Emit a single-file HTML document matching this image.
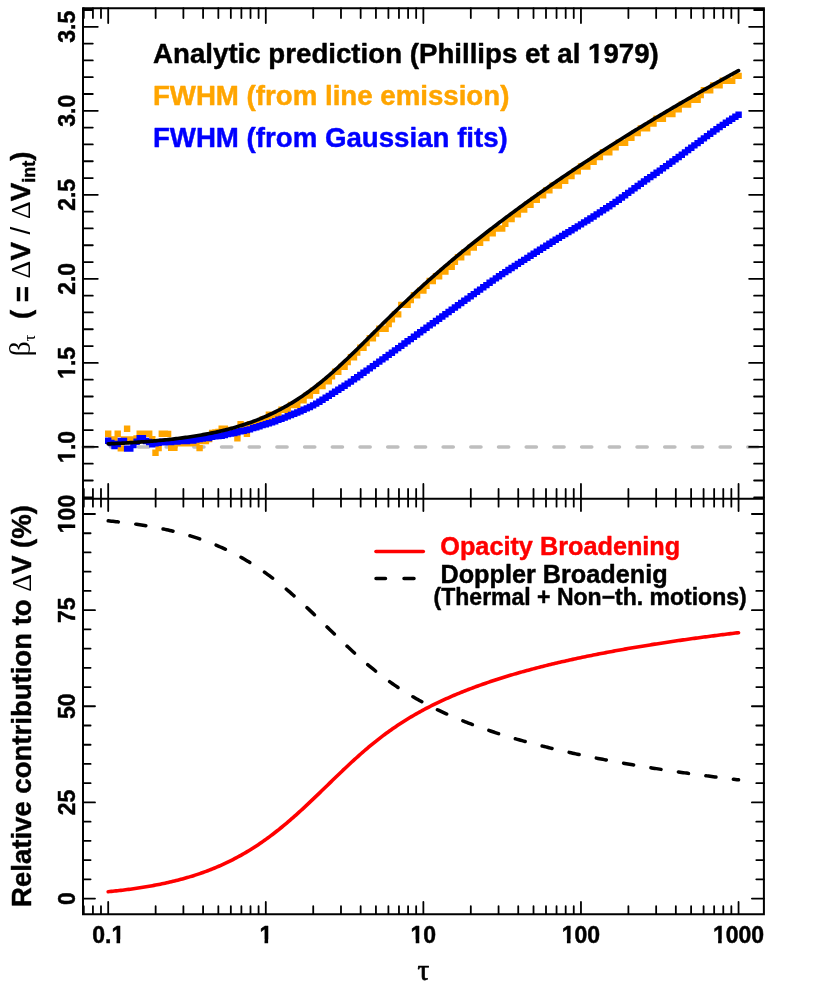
<!DOCTYPE html>
<html><head><meta charset="utf-8"><title>chart</title>
<style>html,body{margin:0;padding:0;background:#fff}body{width:830px;height:997px;overflow:hidden}</style>
</head><body>
<svg width="830" height="997" viewBox="0 0 830 997" style="display:block;will-change:transform;font-family:'Liberation Sans',sans-serif;font-weight:bold">
<style>text{stroke-width:0.45px;stroke-linejoin:round;font-kerning:none}.k{stroke:#000}.r{stroke:#f00}.o{stroke:#ffa500}.b{stroke:#00f}.s{stroke:none}</style>
<rect width="830" height="997" fill="#fff"/>
<path d="M83.0 446.90H763.9" stroke="#bebebe" stroke-width="3.5" stroke-linecap="round" stroke-dasharray="10.2 17.5" fill="none"/>
<path d="M105.0 430.5h6.4v6.4h-6.4zM108.2 436.3h6.4v6.4h-6.4zM111.3 436.3h6.4v6.4h-6.4zM114.5 430.5h6.4v6.4h-6.4zM117.6 445.2h6.4v6.4h-6.4zM120.8 436.3h6.4v6.4h-6.4zM123.9 425.5h6.4v6.4h-6.4zM127.1 436.3h6.4v6.4h-6.4zM130.2 436.3h6.4v6.4h-6.4zM133.4 435.3h6.4v6.4h-6.4zM136.5 430.5h6.4v6.4h-6.4zM139.7 430.5h6.4v6.4h-6.4zM142.8 430.5h6.4v6.4h-6.4zM146.0 430.5h6.4v6.4h-6.4zM149.1 436.1h6.4v6.4h-6.4zM152.3 449.6h6.4v6.4h-6.4zM155.4 444.8h6.4v6.4h-6.4zM158.6 430.5h6.4v6.4h-6.4zM161.7 430.5h6.4v6.4h-6.4zM164.9 430.7h6.4v6.4h-6.4zM168.0 444.7h6.4v6.4h-6.4zM171.2 444.7h6.4v6.4h-6.4zM174.3 440.0h6.4v6.4h-6.4zM177.5 440.0h6.4v6.4h-6.4zM180.6 440.0h6.4v6.4h-6.4zM183.8 440.0h6.4v6.4h-6.4zM186.9 440.0h6.4v6.4h-6.4zM190.1 439.8h6.4v6.4h-6.4zM193.2 439.8h6.4v6.4h-6.4zM196.4 444.9h6.4v6.4h-6.4zM199.6 437.8h6.4v6.4h-6.4zM202.7 437.8h6.4v6.4h-6.4zM205.9 435.9h6.4v6.4h-6.4zM209.0 429.8h6.4v6.4h-6.4zM212.2 429.3h6.4v6.4h-6.4zM215.3 428.8h6.4v6.4h-6.4zM218.5 425.5h6.4v6.4h-6.4zM221.6 425.5h6.4v6.4h-6.4zM224.8 427.3h6.4v6.4h-6.4zM227.9 426.8h6.4v6.4h-6.4zM231.1 426.8h6.4v6.4h-6.4zM234.2 435.2h6.4v6.4h-6.4zM237.4 420.9h6.4v6.4h-6.4zM240.5 424.8h6.4v6.4h-6.4zM243.7 430.6h6.4v6.4h-6.4zM246.8 420.9h6.4v6.4h-6.4zM250.0 420.9h6.4v6.4h-6.4zM253.1 420.9h6.4v6.4h-6.4zM256.3 420.9h6.4v6.4h-6.4zM259.4 416.2h6.4v6.4h-6.4zM262.6 416.2h6.4v6.4h-6.4zM265.7 411.4h6.4v6.4h-6.4zM268.9 416.2h6.4v6.4h-6.4zM272.0 411.4h6.4v6.4h-6.4zM275.2 411.4h6.4v6.4h-6.4zM278.3 406.6h6.4v6.4h-6.4zM281.5 406.6h6.4v6.4h-6.4zM284.6 406.6h6.4v6.4h-6.4zM287.8 401.8h6.4v6.4h-6.4zM291.0 401.8h6.4v6.4h-6.4zM294.1 401.8h6.4v6.4h-6.4zM297.3 397.1h6.4v6.4h-6.4zM300.4 397.1h6.4v6.4h-6.4zM303.6 392.3h6.4v6.4h-6.4zM306.7 392.3h6.4v6.4h-6.4zM309.9 387.5h6.4v6.4h-6.4zM313.0 387.5h6.4v6.4h-6.4zM316.2 382.8h6.4v6.4h-6.4zM319.3 382.8h6.4v6.4h-6.4zM322.5 378.0h6.4v6.4h-6.4zM325.6 378.0h6.4v6.4h-6.4zM328.8 373.2h6.4v6.4h-6.4zM331.9 368.5h6.4v6.4h-6.4zM335.1 368.5h6.4v6.4h-6.4zM338.2 363.7h6.4v6.4h-6.4zM341.4 363.7h6.4v6.4h-6.4zM344.5 358.9h6.4v6.4h-6.4zM347.7 354.1h6.4v6.4h-6.4zM350.8 354.1h6.4v6.4h-6.4zM354.0 349.4h6.4v6.4h-6.4zM357.1 344.6h6.4v6.4h-6.4zM360.3 344.6h6.4v6.4h-6.4zM363.4 339.8h6.4v6.4h-6.4zM366.6 335.1h6.4v6.4h-6.4zM369.7 335.1h6.4v6.4h-6.4zM372.9 330.3h6.4v6.4h-6.4zM376.1 325.5h6.4v6.4h-6.4zM379.2 325.5h6.4v6.4h-6.4zM382.4 325.5h6.4v6.4h-6.4zM385.5 320.8h6.4v6.4h-6.4zM388.7 316.0h6.4v6.4h-6.4zM391.8 311.2h6.4v6.4h-6.4zM395.0 311.2h6.4v6.4h-6.4zM398.1 301.7h6.4v6.4h-6.4zM401.3 301.7h6.4v6.4h-6.4zM404.4 301.7h6.4v6.4h-6.4zM407.6 296.9h6.4v6.4h-6.4zM410.7 292.1h6.4v6.4h-6.4zM413.9 292.1h6.4v6.4h-6.4zM417.0 287.4h6.4v6.4h-6.4zM420.2 287.4h6.4v6.4h-6.4zM423.3 282.6h6.4v6.4h-6.4zM426.5 277.8h6.4v6.4h-6.4zM429.6 277.8h6.4v6.4h-6.4zM432.8 273.0h6.4v6.4h-6.4zM435.9 273.0h6.4v6.4h-6.4zM439.1 268.3h6.4v6.4h-6.4zM442.2 268.3h6.4v6.4h-6.4zM445.4 263.5h6.4v6.4h-6.4zM448.5 263.5h6.4v6.4h-6.4zM451.7 258.7h6.4v6.4h-6.4zM454.8 254.0h6.4v6.4h-6.4zM458.0 254.0h6.4v6.4h-6.4zM461.1 249.2h6.4v6.4h-6.4zM464.3 249.2h6.4v6.4h-6.4zM467.5 244.4h6.4v6.4h-6.4zM470.6 244.4h6.4v6.4h-6.4zM473.8 239.7h6.4v6.4h-6.4zM476.9 239.7h6.4v6.4h-6.4zM480.1 234.9h6.4v6.4h-6.4zM483.2 234.9h6.4v6.4h-6.4zM486.4 230.1h6.4v6.4h-6.4zM489.5 230.1h6.4v6.4h-6.4zM492.7 225.3h6.4v6.4h-6.4zM495.8 225.3h6.4v6.4h-6.4zM499.0 225.3h6.4v6.4h-6.4zM502.1 220.6h6.4v6.4h-6.4zM505.3 215.8h6.4v6.4h-6.4zM508.4 215.8h6.4v6.4h-6.4zM511.6 211.0h6.4v6.4h-6.4zM514.7 211.0h6.4v6.4h-6.4zM517.9 206.3h6.4v6.4h-6.4zM521.0 206.3h6.4v6.4h-6.4zM524.2 201.5h6.4v6.4h-6.4zM527.3 201.5h6.4v6.4h-6.4zM530.5 196.7h6.4v6.4h-6.4zM533.6 196.7h6.4v6.4h-6.4zM536.8 192.0h6.4v6.4h-6.4zM539.9 192.0h6.4v6.4h-6.4zM543.1 187.2h6.4v6.4h-6.4zM546.2 187.2h6.4v6.4h-6.4zM549.4 182.4h6.4v6.4h-6.4zM552.5 182.4h6.4v6.4h-6.4zM555.7 182.4h6.4v6.4h-6.4zM558.9 177.6h6.4v6.4h-6.4zM562.0 177.6h6.4v6.4h-6.4zM565.2 172.9h6.4v6.4h-6.4zM568.3 172.9h6.4v6.4h-6.4zM571.5 168.1h6.4v6.4h-6.4zM574.6 168.1h6.4v6.4h-6.4zM577.8 163.3h6.4v6.4h-6.4zM580.9 163.3h6.4v6.4h-6.4zM584.1 163.3h6.4v6.4h-6.4zM587.2 158.6h6.4v6.4h-6.4zM590.4 158.6h6.4v6.4h-6.4zM593.5 153.8h6.4v6.4h-6.4zM596.7 153.8h6.4v6.4h-6.4zM599.8 149.0h6.4v6.4h-6.4zM603.0 149.0h6.4v6.4h-6.4zM606.1 149.0h6.4v6.4h-6.4zM609.3 144.2h6.4v6.4h-6.4zM612.4 144.2h6.4v6.4h-6.4zM615.6 139.5h6.4v6.4h-6.4zM618.7 139.5h6.4v6.4h-6.4zM621.9 139.5h6.4v6.4h-6.4zM625.0 134.7h6.4v6.4h-6.4zM628.2 134.7h6.4v6.4h-6.4zM631.3 129.9h6.4v6.4h-6.4zM634.5 129.9h6.4v6.4h-6.4zM637.6 125.2h6.4v6.4h-6.4zM640.8 125.2h6.4v6.4h-6.4zM643.9 125.2h6.4v6.4h-6.4zM647.1 120.4h6.4v6.4h-6.4zM650.3 120.4h6.4v6.4h-6.4zM653.4 115.6h6.4v6.4h-6.4zM656.6 115.6h6.4v6.4h-6.4zM659.7 115.6h6.4v6.4h-6.4zM662.9 110.9h6.4v6.4h-6.4zM666.0 110.9h6.4v6.4h-6.4zM669.2 110.9h6.4v6.4h-6.4zM672.3 106.1h6.4v6.4h-6.4zM675.5 106.1h6.4v6.4h-6.4zM678.6 101.3h6.4v6.4h-6.4zM681.8 101.3h6.4v6.4h-6.4zM684.9 101.3h6.4v6.4h-6.4zM688.1 96.5h6.4v6.4h-6.4zM691.2 96.5h6.4v6.4h-6.4zM694.4 96.5h6.4v6.4h-6.4zM697.5 91.8h6.4v6.4h-6.4zM700.7 87.0h6.4v6.4h-6.4zM703.8 87.0h6.4v6.4h-6.4zM707.0 87.0h6.4v6.4h-6.4zM710.1 82.2h6.4v6.4h-6.4zM713.3 82.2h6.4v6.4h-6.4zM716.4 82.2h6.4v6.4h-6.4zM719.6 77.5h6.4v6.4h-6.4zM722.7 77.5h6.4v6.4h-6.4zM725.9 77.5h6.4v6.4h-6.4zM729.0 77.5h6.4v6.4h-6.4zM732.2 72.7h6.4v6.4h-6.4zM735.4 72.7h6.4v6.4h-6.4z" fill="#ffa500"/>
<path d="M105.0 437.5h6.4v6.4h-6.4zM108.2 439.8h6.4v6.4h-6.4zM111.3 442.8h6.4v6.4h-6.4zM114.5 440.8h6.4v6.4h-6.4zM117.6 437.8h6.4v6.4h-6.4zM120.8 437.8h6.4v6.4h-6.4zM123.9 445.4h6.4v6.4h-6.4zM127.1 445.4h6.4v6.4h-6.4zM130.2 441.8h6.4v6.4h-6.4zM133.4 438.5h6.4v6.4h-6.4zM136.5 434.9h6.4v6.4h-6.4zM139.7 434.9h6.4v6.4h-6.4zM142.8 437.8h6.4v6.4h-6.4zM146.0 438.8h6.4v6.4h-6.4zM149.1 441.2h6.4v6.4h-6.4zM152.3 440.1h6.4v6.4h-6.4zM155.4 439.7h6.4v6.4h-6.4zM158.6 438.4h6.4v6.4h-6.4zM161.7 439.2h6.4v6.4h-6.4zM164.9 438.9h6.4v6.4h-6.4zM168.0 438.8h6.4v6.4h-6.4zM171.2 438.3h6.4v6.4h-6.4zM174.3 438.3h6.4v6.4h-6.4zM177.5 437.8h6.4v6.4h-6.4zM180.6 437.2h6.4v6.4h-6.4zM183.8 437.8h6.4v6.4h-6.4zM186.9 437.4h6.4v6.4h-6.4zM190.1 437.4h6.4v6.4h-6.4zM193.2 436.4h6.4v6.4h-6.4zM196.4 435.8h6.4v6.4h-6.4zM199.6 435.3h6.4v6.4h-6.4zM202.7 434.5h6.4v6.4h-6.4zM205.9 434.8h6.4v6.4h-6.4zM209.0 433.6h6.4v6.4h-6.4zM212.2 433.1h6.4v6.4h-6.4zM215.3 432.8h6.4v6.4h-6.4zM218.5 432.7h6.4v6.4h-6.4zM221.6 431.8h6.4v6.4h-6.4zM224.8 430.8h6.4v6.4h-6.4zM227.9 430.3h6.4v6.4h-6.4zM231.1 429.8h6.4v6.4h-6.4zM234.2 429.0h6.4v6.4h-6.4zM237.4 428.1h6.4v6.4h-6.4zM240.5 427.5h6.4v6.4h-6.4zM243.7 426.8h6.4v6.4h-6.4zM246.8 426.2h6.4v6.4h-6.4zM250.0 424.8h6.4v6.4h-6.4zM253.1 424.0h6.4v6.4h-6.4zM256.3 423.1h6.4v6.4h-6.4zM259.4 421.9h6.4v6.4h-6.4zM262.6 421.1h6.4v6.4h-6.4zM265.7 420.0h6.4v6.4h-6.4zM268.9 419.2h6.4v6.4h-6.4zM272.0 418.0h6.4v6.4h-6.4zM275.2 416.6h6.4v6.4h-6.4zM278.3 415.7h6.4v6.4h-6.4zM281.5 414.4h6.4v6.4h-6.4zM284.6 413.0h6.4v6.4h-6.4zM287.8 411.8h6.4v6.4h-6.4zM291.0 410.6h6.4v6.4h-6.4zM294.1 409.3h6.4v6.4h-6.4zM297.3 408.1h6.4v6.4h-6.4zM300.4 406.5h6.4v6.4h-6.4zM303.6 405.2h6.4v6.4h-6.4zM306.7 403.8h6.4v6.4h-6.4zM309.9 402.2h6.4v6.4h-6.4zM313.0 400.4h6.4v6.4h-6.4zM316.2 398.6h6.4v6.4h-6.4zM319.3 396.6h6.4v6.4h-6.4zM322.5 394.5h6.4v6.4h-6.4zM325.6 392.7h6.4v6.4h-6.4zM328.8 390.6h6.4v6.4h-6.4zM331.9 388.6h6.4v6.4h-6.4zM335.1 386.6h6.4v6.4h-6.4zM338.2 384.6h6.4v6.4h-6.4zM341.4 382.6h6.4v6.4h-6.4zM344.5 380.4h6.4v6.4h-6.4zM347.7 378.4h6.4v6.4h-6.4zM350.8 376.1h6.4v6.4h-6.4zM354.0 374.0h6.4v6.4h-6.4zM357.1 371.8h6.4v6.4h-6.4zM360.3 369.6h6.4v6.4h-6.4zM363.4 367.4h6.4v6.4h-6.4zM366.6 365.2h6.4v6.4h-6.4zM369.7 362.9h6.4v6.4h-6.4zM372.9 360.7h6.4v6.4h-6.4zM376.1 358.4h6.4v6.4h-6.4zM379.2 356.2h6.4v6.4h-6.4zM382.4 354.0h6.4v6.4h-6.4zM385.5 351.7h6.4v6.4h-6.4zM388.7 349.5h6.4v6.4h-6.4zM391.8 347.2h6.4v6.4h-6.4zM395.0 344.9h6.4v6.4h-6.4zM398.1 342.7h6.4v6.4h-6.4zM401.3 340.3h6.4v6.4h-6.4zM404.4 338.1h6.4v6.4h-6.4zM407.6 335.9h6.4v6.4h-6.4zM410.7 333.6h6.4v6.4h-6.4zM413.9 331.3h6.4v6.4h-6.4zM417.0 329.1h6.4v6.4h-6.4zM420.2 326.8h6.4v6.4h-6.4zM423.3 324.5h6.4v6.4h-6.4zM426.5 322.2h6.4v6.4h-6.4zM429.6 320.0h6.4v6.4h-6.4zM432.8 317.8h6.4v6.4h-6.4zM435.9 315.5h6.4v6.4h-6.4zM439.1 313.3h6.4v6.4h-6.4zM442.2 311.0h6.4v6.4h-6.4zM445.4 308.8h6.4v6.4h-6.4zM448.5 306.5h6.4v6.4h-6.4zM451.7 304.3h6.4v6.4h-6.4zM454.8 302.1h6.4v6.4h-6.4zM458.0 299.8h6.4v6.4h-6.4zM461.1 297.6h6.4v6.4h-6.4zM464.3 295.4h6.4v6.4h-6.4zM467.5 293.1h6.4v6.4h-6.4zM470.6 290.9h6.4v6.4h-6.4zM473.8 288.6h6.4v6.4h-6.4zM476.9 286.4h6.4v6.4h-6.4zM480.1 284.1h6.4v6.4h-6.4zM483.2 281.9h6.4v6.4h-6.4zM486.4 279.6h6.4v6.4h-6.4zM489.5 277.4h6.4v6.4h-6.4zM492.7 275.2h6.4v6.4h-6.4zM495.8 273.1h6.4v6.4h-6.4zM499.0 270.9h6.4v6.4h-6.4zM502.1 268.9h6.4v6.4h-6.4zM505.3 266.8h6.4v6.4h-6.4zM508.4 264.8h6.4v6.4h-6.4zM511.6 262.8h6.4v6.4h-6.4zM514.7 260.7h6.4v6.4h-6.4zM517.9 258.7h6.4v6.4h-6.4zM521.0 256.7h6.4v6.4h-6.4zM524.2 254.7h6.4v6.4h-6.4zM527.3 252.6h6.4v6.4h-6.4zM530.5 250.6h6.4v6.4h-6.4zM533.6 248.6h6.4v6.4h-6.4zM536.8 246.6h6.4v6.4h-6.4zM539.9 244.6h6.4v6.4h-6.4zM543.1 242.6h6.4v6.4h-6.4zM546.2 240.6h6.4v6.4h-6.4zM549.4 238.6h6.4v6.4h-6.4zM552.5 236.6h6.4v6.4h-6.4zM555.7 234.7h6.4v6.4h-6.4zM558.9 232.7h6.4v6.4h-6.4zM562.0 230.8h6.4v6.4h-6.4zM565.2 228.9h6.4v6.4h-6.4zM568.3 227.0h6.4v6.4h-6.4zM571.5 225.1h6.4v6.4h-6.4zM574.6 223.2h6.4v6.4h-6.4zM577.8 221.2h6.4v6.4h-6.4zM580.9 219.2h6.4v6.4h-6.4zM584.1 217.3h6.4v6.4h-6.4zM587.2 215.3h6.4v6.4h-6.4zM590.4 213.3h6.4v6.4h-6.4zM593.5 211.2h6.4v6.4h-6.4zM596.7 209.2h6.4v6.4h-6.4zM599.8 207.1h6.4v6.4h-6.4zM603.0 205.1h6.4v6.4h-6.4zM606.1 203.0h6.4v6.4h-6.4zM609.3 200.9h6.4v6.4h-6.4zM612.4 198.7h6.4v6.4h-6.4zM615.6 196.5h6.4v6.4h-6.4zM618.7 194.3h6.4v6.4h-6.4zM621.9 192.1h6.4v6.4h-6.4zM625.0 189.7h6.4v6.4h-6.4zM628.2 187.4h6.4v6.4h-6.4zM631.3 185.1h6.4v6.4h-6.4zM634.5 182.8h6.4v6.4h-6.4zM637.6 180.5h6.4v6.4h-6.4zM640.8 178.3h6.4v6.4h-6.4zM643.9 176.1h6.4v6.4h-6.4zM647.1 173.9h6.4v6.4h-6.4zM650.3 171.8h6.4v6.4h-6.4zM653.4 169.6h6.4v6.4h-6.4zM656.6 167.4h6.4v6.4h-6.4zM659.7 165.1h6.4v6.4h-6.4zM662.9 162.9h6.4v6.4h-6.4zM666.0 160.6h6.4v6.4h-6.4zM669.2 158.3h6.4v6.4h-6.4zM672.3 156.1h6.4v6.4h-6.4zM675.5 153.8h6.4v6.4h-6.4zM678.6 151.5h6.4v6.4h-6.4zM681.8 149.2h6.4v6.4h-6.4zM684.9 146.8h6.4v6.4h-6.4zM688.1 144.5h6.4v6.4h-6.4zM691.2 142.2h6.4v6.4h-6.4zM694.4 139.9h6.4v6.4h-6.4zM697.5 137.6h6.4v6.4h-6.4zM700.7 135.2h6.4v6.4h-6.4zM703.8 132.9h6.4v6.4h-6.4zM707.0 130.6h6.4v6.4h-6.4zM710.1 128.3h6.4v6.4h-6.4zM713.3 126.0h6.4v6.4h-6.4zM716.4 123.8h6.4v6.4h-6.4zM719.6 121.7h6.4v6.4h-6.4zM722.7 119.6h6.4v6.4h-6.4zM725.9 117.6h6.4v6.4h-6.4zM729.0 115.5h6.4v6.4h-6.4zM732.2 113.6h6.4v6.4h-6.4zM735.4 111.6h6.4v6.4h-6.4z" fill="#0000ff"/>
<path d="M108.20 443.86 L109.78 443.79 L111.36 443.72 L112.94 443.64 L114.52 443.56 L116.10 443.49 L117.68 443.41 L119.26 443.32 L120.84 443.24 L122.42 443.16 L124.00 443.07 L125.58 442.98 L127.16 442.89 L128.74 442.79 L130.32 442.70 L131.90 442.60 L133.48 442.50 L135.06 442.39 L136.64 442.29 L138.22 442.18 L139.80 442.07 L141.38 441.96 L142.96 441.84 L144.54 441.72 L146.12 441.60 L147.70 441.47 L149.28 441.35 L150.86 441.22 L152.44 441.08 L154.01 440.95 L155.59 440.81 L157.17 440.66 L158.75 440.52 L160.33 440.37 L161.91 440.22 L163.49 440.06 L165.07 439.90 L166.65 439.73 L168.23 439.57 L169.81 439.39 L171.39 439.22 L172.97 439.04 L174.55 438.85 L176.13 438.66 L177.71 438.47 L179.29 438.27 L180.87 438.07 L182.45 437.86 L184.03 437.65 L185.61 437.43 L187.19 437.21 L188.77 436.98 L190.35 436.75 L191.93 436.51 L193.51 436.27 L195.09 436.02 L196.67 435.76 L198.25 435.50 L199.83 435.23 L201.41 434.96 L202.99 434.68 L204.57 434.39 L206.15 434.10 L207.73 433.80 L209.31 433.49 L210.89 433.18 L212.47 432.85 L214.05 432.52 L215.63 432.19 L217.21 431.84 L218.79 431.49 L220.37 431.13 L221.95 430.76 L223.53 430.38 L225.11 429.99 L226.69 429.60 L228.27 429.19 L229.85 428.78 L231.43 428.36 L233.01 427.92 L234.59 427.48 L236.17 427.03 L237.75 426.56 L239.33 426.09 L240.91 425.60 L242.49 425.11 L244.06 424.60 L245.64 424.08 L247.22 423.55 L248.80 423.01 L250.38 422.46 L251.96 421.89 L253.54 421.31 L255.12 420.72 L256.70 420.11 L258.28 419.50 L259.86 418.86 L261.44 418.22 L263.02 417.56 L264.60 416.89 L266.18 416.20 L267.76 415.49 L269.34 414.78 L270.92 414.05 L272.50 413.30 L274.08 412.53 L275.66 411.75 L277.24 410.96 L278.82 410.15 L280.40 409.32 L281.98 408.48 L283.56 407.62 L285.14 406.74 L286.72 405.84 L288.30 404.93 L289.88 404.00 L291.46 403.06 L293.04 402.09 L294.62 401.11 L296.20 400.11 L297.78 399.10 L299.36 398.06 L300.94 397.01 L302.52 395.94 L304.10 394.85 L305.68 393.74 L307.26 392.62 L308.84 391.47 L310.42 390.31 L312.00 389.13 L313.58 387.94 L315.16 386.73 L316.74 385.50 L318.32 384.25 L319.90 382.98 L321.48 381.70 L323.06 380.40 L324.64 379.09 L326.22 377.76 L327.80 376.42 L329.38 375.06 L330.96 373.68 L332.54 372.29 L334.11 370.89 L335.69 369.47 L337.27 368.04 L338.85 366.60 L340.43 365.15 L342.01 363.68 L343.59 362.21 L345.17 360.72 L346.75 359.22 L348.33 357.72 L349.91 356.20 L351.49 354.68 L353.07 353.15 L354.65 351.61 L356.23 350.07 L357.81 348.52 L359.39 346.96 L360.97 345.40 L362.55 343.84 L364.13 342.27 L365.71 340.70 L367.29 339.13 L368.87 337.56 L370.45 335.99 L372.03 334.41 L373.61 332.84 L375.19 331.27 L376.77 329.69 L378.35 328.12 L379.93 326.55 L381.51 324.99 L383.09 323.42 L384.67 321.86 L386.25 320.30 L387.83 318.75 L389.41 317.20 L390.99 315.65 L392.57 314.11 L394.15 312.58 L395.73 311.05 L397.31 309.52 L398.89 308.00 L400.47 306.49 L402.05 304.98 L403.63 303.47 L405.21 301.98 L406.79 300.48 L408.37 299.00 L409.95 297.52 L411.53 296.05 L413.11 294.58 L414.69 293.12 L416.27 291.66 L417.85 290.21 L419.43 288.77 L421.01 287.33 L422.59 285.90 L424.16 284.48 L425.74 283.06 L427.32 281.64 L428.90 280.24 L430.48 278.84 L432.06 277.44 L433.64 276.05 L435.22 274.67 L436.80 273.29 L438.38 271.91 L439.96 270.55 L441.54 269.18 L443.12 267.83 L444.70 266.47 L446.28 265.13 L447.86 263.79 L449.44 262.45 L451.02 261.12 L452.60 259.79 L454.18 258.47 L455.76 257.15 L457.34 255.84 L458.92 254.53 L460.50 253.23 L462.08 251.93 L463.66 250.64 L465.24 249.35 L466.82 248.07 L468.40 246.79 L469.98 245.51 L471.56 244.24 L473.14 242.98 L474.72 241.72 L476.30 240.46 L477.88 239.20 L479.46 237.96 L481.04 236.71 L482.62 235.47 L484.20 234.23 L485.78 233.00 L487.36 231.77 L488.94 230.55 L490.52 229.32 L492.10 228.11 L493.68 226.89 L495.26 225.68 L496.84 224.48 L498.42 223.27 L500.00 222.08 L501.58 220.88 L503.16 219.69 L504.74 218.50 L506.32 217.32 L507.90 216.14 L509.48 214.96 L511.06 213.79 L512.64 212.62 L514.21 211.45 L515.79 210.28 L517.37 209.12 L518.95 207.97 L520.53 206.81 L522.11 205.66 L523.69 204.52 L525.27 203.37 L526.85 202.23 L528.43 201.09 L530.01 199.96 L531.59 198.83 L533.17 197.70 L534.75 196.57 L536.33 195.45 L537.91 194.33 L539.49 193.22 L541.07 192.10 L542.65 190.99 L544.23 189.88 L545.81 188.78 L547.39 187.68 L548.97 186.58 L550.55 185.48 L552.13 184.39 L553.71 183.30 L555.29 182.21 L556.87 181.12 L558.45 180.04 L560.03 178.96 L561.61 177.89 L563.19 176.81 L564.77 175.74 L566.35 174.67 L567.93 173.60 L569.51 172.54 L571.09 171.48 L572.67 170.42 L574.25 169.36 L575.83 168.31 L577.41 167.26 L578.99 166.21 L580.57 165.16 L582.15 164.12 L583.73 163.07 L585.31 162.04 L586.89 161.00 L588.47 159.96 L590.05 158.93 L591.63 157.90 L593.21 156.87 L594.79 155.85 L596.37 154.83 L597.95 153.80 L599.53 152.79 L601.11 151.77 L602.69 150.76 L604.26 149.74 L605.84 148.73 L607.42 147.73 L609.00 146.72 L610.58 145.72 L612.16 144.72 L613.74 143.72 L615.32 142.72 L616.90 141.73 L618.48 140.73 L620.06 139.74 L621.64 138.76 L623.22 137.77 L624.80 136.79 L626.38 135.80 L627.96 134.82 L629.54 133.84 L631.12 132.87 L632.70 131.89 L634.28 130.92 L635.86 129.95 L637.44 128.98 L639.02 128.02 L640.60 127.05 L642.18 126.09 L643.76 125.13 L645.34 124.17 L646.92 123.21 L648.50 122.26 L650.08 121.30 L651.66 120.35 L653.24 119.40 L654.82 118.45 L656.40 117.51 L657.98 116.56 L659.56 115.62 L661.14 114.68 L662.72 113.74 L664.30 112.80 L665.88 111.87 L667.46 110.93 L669.04 110.00 L670.62 109.07 L672.20 108.14 L673.78 107.22 L675.36 106.29 L676.94 105.37 L678.52 104.45 L680.10 103.53 L681.68 102.61 L683.26 101.69 L684.84 100.77 L686.42 99.86 L688.00 98.95 L689.58 98.04 L691.16 97.13 L692.74 96.22 L694.31 95.32 L695.89 94.41 L697.47 93.51 L699.05 92.61 L700.63 91.71 L702.21 90.81 L703.79 89.92 L705.37 89.02 L706.95 88.13 L708.53 87.24 L710.11 86.35 L711.69 85.46 L713.27 84.57 L714.85 83.68 L716.43 82.80 L718.01 81.92 L719.59 81.03 L721.17 80.15 L722.75 79.28 L724.33 78.40 L725.91 77.52 L727.49 76.65 L729.07 75.78 L730.65 74.91 L732.23 74.04 L733.81 73.17 L735.39 72.30 L736.97 71.43 L738.55 70.57" stroke="#000" stroke-width="3.7" stroke-linecap="round" stroke-linejoin="round" fill="none"/>
<path d="M108.20 520.83 L109.78 520.99 L111.36 521.15 L112.94 521.32 L114.52 521.48 L116.10 521.66 L117.68 521.83 L119.26 522.01 L120.84 522.19 L122.42 522.38 L124.00 522.57 L125.58 522.77 L127.16 522.97 L128.74 523.18 L130.32 523.39 L131.90 523.60 L133.48 523.82 L135.06 524.04 L136.64 524.27 L138.22 524.51 L139.80 524.75 L141.38 524.99 L142.96 525.24 L144.54 525.50 L146.12 525.76 L147.70 526.03 L149.28 526.30 L150.86 526.58 L152.44 526.86 L154.01 527.16 L155.59 527.45 L157.17 527.76 L158.75 528.07 L160.33 528.39 L161.91 528.71 L163.49 529.04 L165.07 529.38 L166.65 529.73 L168.23 530.08 L169.81 530.44 L171.39 530.81 L172.97 531.19 L174.55 531.58 L176.13 531.97 L177.71 532.37 L179.29 532.78 L180.87 533.20 L182.45 533.63 L184.03 534.06 L185.61 534.51 L187.19 534.97 L188.77 535.43 L190.35 535.91 L191.93 536.39 L193.51 536.88 L195.09 537.39 L196.67 537.90 L198.25 538.43 L199.83 538.97 L201.41 539.51 L202.99 540.07 L204.57 540.64 L206.15 541.22 L207.73 541.81 L209.31 542.42 L210.89 543.04 L212.47 543.66 L214.05 544.30 L215.63 544.96 L217.21 545.62 L218.79 546.30 L220.37 546.99 L221.95 547.70 L223.53 548.42 L225.11 549.15 L226.69 549.90 L228.27 550.66 L229.85 551.43 L231.43 552.22 L233.01 553.02 L234.59 553.84 L236.17 554.67 L237.75 555.52 L239.33 556.38 L240.91 557.25 L242.49 558.14 L244.06 559.05 L245.64 559.97 L247.22 560.91 L248.80 561.87 L250.38 562.84 L251.96 563.82 L253.54 564.82 L255.12 565.84 L256.70 566.87 L258.28 567.92 L259.86 568.99 L261.44 570.07 L263.02 571.16 L264.60 572.28 L266.18 573.41 L267.76 574.55 L269.34 575.71 L270.92 576.89 L272.50 578.08 L274.08 579.29 L275.66 580.52 L277.24 581.76 L278.82 583.01 L280.40 584.28 L281.98 585.56 L283.56 586.86 L285.14 588.18 L286.72 589.50 L288.30 590.85 L289.88 592.20 L291.46 593.57 L293.04 594.95 L294.62 596.35 L296.20 597.75 L297.78 599.17 L299.36 600.60 L300.94 602.04 L302.52 603.49 L304.10 604.95 L305.68 606.42 L307.26 607.89 L308.84 609.38 L310.42 610.87 L312.00 612.38 L313.58 613.88 L315.16 615.40 L316.74 616.91 L318.32 618.44 L319.90 619.96 L321.48 621.49 L323.06 623.03 L324.64 624.56 L326.22 626.10 L327.80 627.63 L329.38 629.17 L330.96 630.70 L332.54 632.24 L334.11 633.77 L335.69 635.30 L337.27 636.82 L338.85 638.34 L340.43 639.86 L342.01 641.37 L343.59 642.87 L345.17 644.36 L346.75 645.85 L348.33 647.33 L349.91 648.80 L351.49 650.26 L353.07 651.71 L354.65 653.16 L356.23 654.59 L357.81 656.00 L359.39 657.41 L360.97 658.81 L362.55 660.19 L364.13 661.56 L365.71 662.91 L367.29 664.26 L368.87 665.58 L370.45 666.90 L372.03 668.20 L373.61 669.48 L375.19 670.75 L376.77 672.01 L378.35 673.25 L379.93 674.48 L381.51 675.69 L383.09 676.88 L384.67 678.06 L386.25 679.23 L387.83 680.38 L389.41 681.52 L390.99 682.64 L392.57 683.74 L394.15 684.83 L395.73 685.91 L397.31 686.97 L398.89 688.02 L400.47 689.05 L402.05 690.07 L403.63 691.08 L405.21 692.07 L406.79 693.05 L408.37 694.02 L409.95 694.97 L411.53 695.91 L413.11 696.84 L414.69 697.76 L416.27 698.66 L417.85 699.55 L419.43 700.43 L421.01 701.30 L422.59 702.16 L424.16 703.01 L425.74 703.84 L427.32 704.67 L428.90 705.48 L430.48 706.29 L432.06 707.08 L433.64 707.87 L435.22 708.65 L436.80 709.41 L438.38 710.17 L439.96 710.92 L441.54 711.66 L443.12 712.39 L444.70 713.11 L446.28 713.82 L447.86 714.53 L449.44 715.23 L451.02 715.92 L452.60 716.60 L454.18 717.27 L455.76 717.94 L457.34 718.60 L458.92 719.25 L460.50 719.90 L462.08 720.54 L463.66 721.17 L465.24 721.79 L466.82 722.41 L468.40 723.02 L469.98 723.63 L471.56 724.23 L473.14 724.82 L474.72 725.41 L476.30 725.99 L477.88 726.57 L479.46 727.14 L481.04 727.70 L482.62 728.26 L484.20 728.81 L485.78 729.36 L487.36 729.90 L488.94 730.44 L490.52 730.97 L492.10 731.50 L493.68 732.02 L495.26 732.54 L496.84 733.05 L498.42 733.56 L500.00 734.07 L501.58 734.56 L503.16 735.06 L504.74 735.55 L506.32 736.03 L507.90 736.52 L509.48 736.99 L511.06 737.47 L512.64 737.93 L514.21 738.40 L515.79 738.86 L517.37 739.32 L518.95 739.77 L520.53 740.22 L522.11 740.66 L523.69 741.10 L525.27 741.54 L526.85 741.98 L528.43 742.41 L530.01 742.83 L531.59 743.26 L533.17 743.68 L534.75 744.09 L536.33 744.51 L537.91 744.92 L539.49 745.32 L541.07 745.73 L542.65 746.13 L544.23 746.52 L545.81 746.92 L547.39 747.31 L548.97 747.70 L550.55 748.08 L552.13 748.46 L553.71 748.84 L555.29 749.22 L556.87 749.59 L558.45 749.96 L560.03 750.33 L561.61 750.70 L563.19 751.06 L564.77 751.42 L566.35 751.78 L567.93 752.13 L569.51 752.48 L571.09 752.83 L572.67 753.18 L574.25 753.53 L575.83 753.87 L577.41 754.21 L578.99 754.54 L580.57 754.88 L582.15 755.21 L583.73 755.54 L585.31 755.87 L586.89 756.20 L588.47 756.52 L590.05 756.84 L591.63 757.16 L593.21 757.48 L594.79 757.79 L596.37 758.11 L597.95 758.42 L599.53 758.73 L601.11 759.03 L602.69 759.34 L604.26 759.64 L605.84 759.94 L607.42 760.24 L609.00 760.54 L610.58 760.83 L612.16 761.13 L613.74 761.42 L615.32 761.71 L616.90 761.99 L618.48 762.28 L620.06 762.56 L621.64 762.85 L623.22 763.13 L624.80 763.41 L626.38 763.68 L627.96 763.96 L629.54 764.23 L631.12 764.50 L632.70 764.77 L634.28 765.04 L635.86 765.31 L637.44 765.58 L639.02 765.84 L640.60 766.10 L642.18 766.36 L643.76 766.62 L645.34 766.88 L646.92 767.14 L648.50 767.39 L650.08 767.64 L651.66 767.90 L653.24 768.15 L654.82 768.40 L656.40 768.64 L657.98 768.89 L659.56 769.13 L661.14 769.38 L662.72 769.62 L664.30 769.86 L665.88 770.10 L667.46 770.34 L669.04 770.57 L670.62 770.81 L672.20 771.04 L673.78 771.28 L675.36 771.51 L676.94 771.74 L678.52 771.97 L680.10 772.20 L681.68 772.42 L683.26 772.65 L684.84 772.87 L686.42 773.09 L688.00 773.32 L689.58 773.54 L691.16 773.76 L692.74 773.97 L694.31 774.19 L695.89 774.41 L697.47 774.62 L699.05 774.84 L700.63 775.05 L702.21 775.26 L703.79 775.47 L705.37 775.68 L706.95 775.89 L708.53 776.10 L710.11 776.30 L711.69 776.51 L713.27 776.71 L714.85 776.91 L716.43 777.12 L718.01 777.32 L719.59 777.52 L721.17 777.72 L722.75 777.91 L724.33 778.11 L725.91 778.31 L727.49 778.50 L729.07 778.70 L730.65 778.89 L732.23 779.08 L733.81 779.28 L735.39 779.47 L736.97 779.66 L738.55 779.84" stroke="#000" stroke-width="3.5" stroke-linecap="round" stroke-dasharray="10.2 17.55" fill="none"/>
<path d="M108.20 891.72 L109.78 891.56 L111.36 891.40 L112.94 891.23 L114.52 891.07 L116.10 890.89 L117.68 890.72 L119.26 890.54 L120.84 890.36 L122.42 890.17 L124.00 889.98 L125.58 889.78 L127.16 889.58 L128.74 889.37 L130.32 889.16 L131.90 888.95 L133.48 888.73 L135.06 888.51 L136.64 888.28 L138.22 888.04 L139.80 887.80 L141.38 887.56 L142.96 887.31 L144.54 887.05 L146.12 886.79 L147.70 886.52 L149.28 886.25 L150.86 885.97 L152.44 885.69 L154.01 885.39 L155.59 885.10 L157.17 884.79 L158.75 884.48 L160.33 884.16 L161.91 883.84 L163.49 883.51 L165.07 883.17 L166.65 882.82 L168.23 882.47 L169.81 882.11 L171.39 881.74 L172.97 881.36 L174.55 880.97 L176.13 880.58 L177.71 880.18 L179.29 879.77 L180.87 879.35 L182.45 878.92 L184.03 878.49 L185.61 878.04 L187.19 877.58 L188.77 877.12 L190.35 876.64 L191.93 876.16 L193.51 875.67 L195.09 875.16 L196.67 874.65 L198.25 874.12 L199.83 873.58 L201.41 873.04 L202.99 872.48 L204.57 871.91 L206.15 871.33 L207.73 870.74 L209.31 870.13 L210.89 869.51 L212.47 868.89 L214.05 868.25 L215.63 867.59 L217.21 866.93 L218.79 866.25 L220.37 865.56 L221.95 864.85 L223.53 864.13 L225.11 863.40 L226.69 862.65 L228.27 861.89 L229.85 861.12 L231.43 860.33 L233.01 859.53 L234.59 858.71 L236.17 857.88 L237.75 857.03 L239.33 856.17 L240.91 855.30 L242.49 854.41 L244.06 853.50 L245.64 852.58 L247.22 851.64 L248.80 850.68 L250.38 849.71 L251.96 848.73 L253.54 847.73 L255.12 846.71 L256.70 845.68 L258.28 844.63 L259.86 843.56 L261.44 842.48 L263.02 841.39 L264.60 840.27 L266.18 839.14 L267.76 838.00 L269.34 836.84 L270.92 835.66 L272.50 834.47 L274.08 833.26 L275.66 832.03 L277.24 830.79 L278.82 829.54 L280.40 828.27 L281.98 826.99 L283.56 825.69 L285.14 824.37 L286.72 823.05 L288.30 821.70 L289.88 820.35 L291.46 818.98 L293.04 817.60 L294.62 816.20 L296.20 814.80 L297.78 813.38 L299.36 811.95 L300.94 810.51 L302.52 809.06 L304.10 807.60 L305.68 806.13 L307.26 804.66 L308.84 803.17 L310.42 801.68 L312.00 800.17 L313.58 798.67 L315.16 797.15 L316.74 795.64 L318.32 794.11 L319.90 792.59 L321.48 791.06 L323.06 789.52 L324.64 787.99 L326.22 786.45 L327.80 784.92 L329.38 783.38 L330.96 781.85 L332.54 780.31 L334.11 778.78 L335.69 777.25 L337.27 775.73 L338.85 774.21 L340.43 772.69 L342.01 771.18 L343.59 769.68 L345.17 768.19 L346.75 766.70 L348.33 765.22 L349.91 763.75 L351.49 762.29 L353.07 760.84 L354.65 759.39 L356.23 757.96 L357.81 756.55 L359.39 755.14 L360.97 753.74 L362.55 752.36 L364.13 750.99 L365.71 749.64 L367.29 748.29 L368.87 746.97 L370.45 745.65 L372.03 744.35 L373.61 743.07 L375.19 741.80 L376.77 740.54 L378.35 739.30 L379.93 738.07 L381.51 736.86 L383.09 735.67 L384.67 734.49 L386.25 733.32 L387.83 732.17 L389.41 731.03 L390.99 729.91 L392.57 728.81 L394.15 727.72 L395.73 726.64 L397.31 725.58 L398.89 724.53 L400.47 723.50 L402.05 722.48 L403.63 721.47 L405.21 720.48 L406.79 719.50 L408.37 718.53 L409.95 717.58 L411.53 716.64 L413.11 715.71 L414.69 714.79 L416.27 713.89 L417.85 713.00 L419.43 712.12 L421.01 711.25 L422.59 710.39 L424.16 709.54 L425.74 708.71 L427.32 707.88 L428.90 707.07 L430.48 706.26 L432.06 705.47 L433.64 704.68 L435.22 703.90 L436.80 703.14 L438.38 702.38 L439.96 701.63 L441.54 700.89 L443.12 700.16 L444.70 699.44 L446.28 698.73 L447.86 698.02 L449.44 697.32 L451.02 696.63 L452.60 695.95 L454.18 695.28 L455.76 694.61 L457.34 693.95 L458.92 693.30 L460.50 692.65 L462.08 692.01 L463.66 691.38 L465.24 690.76 L466.82 690.14 L468.40 689.53 L469.98 688.92 L471.56 688.32 L473.14 687.73 L474.72 687.14 L476.30 686.56 L477.88 685.98 L479.46 685.41 L481.04 684.85 L482.62 684.29 L484.20 683.74 L485.78 683.19 L487.36 682.65 L488.94 682.11 L490.52 681.58 L492.10 681.05 L493.68 680.53 L495.26 680.01 L496.84 679.50 L498.42 678.99 L500.00 678.48 L501.58 677.99 L503.16 677.49 L504.74 677.00 L506.32 676.52 L507.90 676.03 L509.48 675.56 L511.06 675.08 L512.64 674.62 L514.21 674.15 L515.79 673.69 L517.37 673.23 L518.95 672.78 L520.53 672.33 L522.11 671.89 L523.69 671.45 L525.27 671.01 L526.85 670.57 L528.43 670.14 L530.01 669.72 L531.59 669.29 L533.17 668.87 L534.75 668.46 L536.33 668.04 L537.91 667.63 L539.49 667.23 L541.07 666.82 L542.65 666.42 L544.23 666.03 L545.81 665.63 L547.39 665.24 L548.97 664.85 L550.55 664.47 L552.13 664.09 L553.71 663.71 L555.29 663.33 L556.87 662.96 L558.45 662.59 L560.03 662.22 L561.61 661.85 L563.19 661.49 L564.77 661.13 L566.35 660.77 L567.93 660.42 L569.51 660.07 L571.09 659.72 L572.67 659.37 L574.25 659.02 L575.83 658.68 L577.41 658.34 L578.99 658.01 L580.57 657.67 L582.15 657.34 L583.73 657.01 L585.31 656.68 L586.89 656.35 L588.47 656.03 L590.05 655.71 L591.63 655.39 L593.21 655.07 L594.79 654.76 L596.37 654.44 L597.95 654.13 L599.53 653.82 L601.11 653.52 L602.69 653.21 L604.26 652.91 L605.84 652.61 L607.42 652.31 L609.00 652.01 L610.58 651.72 L612.16 651.42 L613.74 651.13 L615.32 650.84 L616.90 650.56 L618.48 650.27 L620.06 649.99 L621.64 649.70 L623.22 649.42 L624.80 649.14 L626.38 648.87 L627.96 648.59 L629.54 648.32 L631.12 648.05 L632.70 647.78 L634.28 647.51 L635.86 647.24 L637.44 646.97 L639.02 646.71 L640.60 646.45 L642.18 646.19 L643.76 645.93 L645.34 645.67 L646.92 645.41 L648.50 645.16 L650.08 644.91 L651.66 644.65 L653.24 644.40 L654.82 644.15 L656.40 643.91 L657.98 643.66 L659.56 643.42 L661.14 643.17 L662.72 642.93 L664.30 642.69 L665.88 642.45 L667.46 642.21 L669.04 641.98 L670.62 641.74 L672.20 641.51 L673.78 641.27 L675.36 641.04 L676.94 640.81 L678.52 640.58 L680.10 640.35 L681.68 640.13 L683.26 639.90 L684.84 639.68 L686.42 639.46 L688.00 639.23 L689.58 639.01 L691.16 638.79 L692.74 638.58 L694.31 638.36 L695.89 638.14 L697.47 637.93 L699.05 637.71 L700.63 637.50 L702.21 637.29 L703.79 637.08 L705.37 636.87 L706.95 636.66 L708.53 636.45 L710.11 636.25 L711.69 636.04 L713.27 635.84 L714.85 635.64 L716.43 635.43 L718.01 635.23 L719.59 635.03 L721.17 634.83 L722.75 634.64 L724.33 634.44 L725.91 634.24 L727.49 634.05 L729.07 633.85 L730.65 633.66 L732.23 633.47 L733.81 633.27 L735.39 633.08 L736.97 632.89 L738.55 632.71" stroke="#ff0000" stroke-width="3.6" stroke-linecap="round" stroke-linejoin="round" fill="none"/>
<path d="M83.0 8.25H763.9V914.15H83.0Z M83.0 498.8H763.9" stroke="#000" stroke-width="2.0" fill="none" stroke-linejoin="miter"/>
<path d="M83.79 8.25v9.8M83.79 489.00v17.70M83.79 914.15v-7.9M92.93 8.25v9.8M92.93 489.00v17.70M92.93 914.15v-7.9M100.99 8.25v9.8M100.99 489.00v17.70M100.99 914.15v-7.9M108.20 8.25v14.8M108.20 484.00v27.00M108.20 914.15v-12.2M155.64 8.25v9.8M155.64 489.00v17.70M155.64 914.15v-7.9M183.39 8.25v9.8M183.39 489.00v17.70M183.39 914.15v-7.9M203.08 8.25v9.8M203.08 489.00v17.70M203.08 914.15v-7.9M218.35 8.25v9.8M218.35 489.00v17.70M218.35 914.15v-7.9M230.83 8.25v9.8M230.83 489.00v17.70M230.83 914.15v-7.9M241.38 8.25v9.8M241.38 489.00v17.70M241.38 914.15v-7.9M250.52 8.25v9.8M250.52 489.00v17.70M250.52 914.15v-7.9M258.58 8.25v9.8M258.58 489.00v17.70M258.58 914.15v-7.9M265.79 8.25v14.8M265.79 484.00v27.00M265.79 914.15v-12.2M313.23 8.25v9.8M313.23 489.00v17.70M313.23 914.15v-7.9M340.98 8.25v9.8M340.98 489.00v17.70M340.98 914.15v-7.9M360.66 8.25v9.8M360.66 489.00v17.70M360.66 914.15v-7.9M375.94 8.25v9.8M375.94 489.00v17.70M375.94 914.15v-7.9M388.41 8.25v9.8M388.41 489.00v17.70M388.41 914.15v-7.9M398.96 8.25v9.8M398.96 489.00v17.70M398.96 914.15v-7.9M408.10 8.25v9.8M408.10 489.00v17.70M408.10 914.15v-7.9M416.16 8.25v9.8M416.16 489.00v17.70M416.16 914.15v-7.9M423.37 8.25v14.8M423.37 484.00v27.00M423.37 914.15v-12.2M470.81 8.25v9.8M470.81 489.00v17.70M470.81 914.15v-7.9M498.56 8.25v9.8M498.56 489.00v17.70M498.56 914.15v-7.9M518.25 8.25v9.8M518.25 489.00v17.70M518.25 914.15v-7.9M533.52 8.25v9.8M533.52 489.00v17.70M533.52 914.15v-7.9M546.00 8.25v9.8M546.00 489.00v17.70M546.00 914.15v-7.9M556.55 8.25v9.8M556.55 489.00v17.70M556.55 914.15v-7.9M565.69 8.25v9.8M565.69 489.00v17.70M565.69 914.15v-7.9M573.75 8.25v9.8M573.75 489.00v17.70M573.75 914.15v-7.9M580.96 8.25v14.8M580.96 484.00v27.00M580.96 914.15v-12.2M628.40 8.25v9.8M628.40 489.00v17.70M628.40 914.15v-7.9M656.15 8.25v9.8M656.15 489.00v17.70M656.15 914.15v-7.9M675.84 8.25v9.8M675.84 489.00v17.70M675.84 914.15v-7.9M691.11 8.25v9.8M691.11 489.00v17.70M691.11 914.15v-7.9M703.59 8.25v9.8M703.59 489.00v17.70M703.59 914.15v-7.9M714.14 8.25v9.8M714.14 489.00v17.70M714.14 914.15v-7.9M723.28 8.25v9.8M723.28 489.00v17.70M723.28 914.15v-7.9M731.34 8.25v9.8M731.34 489.00v17.70M731.34 914.15v-7.9M738.55 8.25v14.8M738.55 484.00v27.00M738.55 914.15v-12.2M83.0 497.31h9.8M763.9 497.31h-9.8M83.0 480.51h9.8M763.9 480.51h-9.8M83.0 463.70h9.8M763.9 463.70h-9.8M83.0 446.90h14.8M763.9 446.90h-14.8M83.0 430.10h9.8M763.9 430.10h-9.8M83.0 413.29h9.8M763.9 413.29h-9.8M83.0 396.49h9.8M763.9 396.49h-9.8M83.0 379.68h9.8M763.9 379.68h-9.8M83.0 362.88h14.8M763.9 362.88h-14.8M83.0 346.08h9.8M763.9 346.08h-9.8M83.0 329.27h9.8M763.9 329.27h-9.8M83.0 312.47h9.8M763.9 312.47h-9.8M83.0 295.66h9.8M763.9 295.66h-9.8M83.0 278.86h14.8M763.9 278.86h-14.8M83.0 262.06h9.8M763.9 262.06h-9.8M83.0 245.25h9.8M763.9 245.25h-9.8M83.0 228.45h9.8M763.9 228.45h-9.8M83.0 211.64h9.8M763.9 211.64h-9.8M83.0 194.84h14.8M763.9 194.84h-14.8M83.0 178.04h9.8M763.9 178.04h-9.8M83.0 161.23h9.8M763.9 161.23h-9.8M83.0 144.43h9.8M763.9 144.43h-9.8M83.0 127.62h9.8M763.9 127.62h-9.8M83.0 110.82h14.8M763.9 110.82h-14.8M83.0 94.02h9.8M763.9 94.02h-9.8M83.0 77.21h9.8M763.9 77.21h-9.8M83.0 60.41h9.8M763.9 60.41h-9.8M83.0 43.60h9.8M763.9 43.60h-9.8M83.0 26.80h14.8M763.9 26.80h-14.8M83.0 10.00h9.8M763.9 10.00h-9.8M83.0 898.55h12.0M763.9 898.55h-12.0M83.0 879.32h7.6M763.9 879.32h-7.6M83.0 860.09h7.6M763.9 860.09h-7.6M83.0 840.87h7.6M763.9 840.87h-7.6M83.0 821.64h7.6M763.9 821.64h-7.6M83.0 802.41h12.0M763.9 802.41h-12.0M83.0 783.18h7.6M763.9 783.18h-7.6M83.0 763.96h7.6M763.9 763.96h-7.6M83.0 744.73h7.6M763.9 744.73h-7.6M83.0 725.50h7.6M763.9 725.50h-7.6M83.0 706.27h12.0M763.9 706.27h-12.0M83.0 687.05h7.6M763.9 687.05h-7.6M83.0 667.82h7.6M763.9 667.82h-7.6M83.0 648.59h7.6M763.9 648.59h-7.6M83.0 629.37h7.6M763.9 629.37h-7.6M83.0 610.14h12.0M763.9 610.14h-12.0M83.0 590.91h7.6M763.9 590.91h-7.6M83.0 571.68h7.6M763.9 571.68h-7.6M83.0 552.45h7.6M763.9 552.45h-7.6M83.0 533.23h7.6M763.9 533.23h-7.6M83.0 514.00h12.0M763.9 514.00h-12.0" stroke="#000" stroke-width="1.8" stroke-linecap="round" fill="none"/>
<g transform="translate(108.20 942.90)"><text id="t0" class="k" font-size="23.0" text-anchor="middle" fill="#000" xml:space="preserve">0.1</text><path d="M2.72 -3.35H8.33V1.38H2.72ZM11.92 -3.35H16.57V1.38H11.92Z" fill="#fff"/></g>
<g transform="translate(265.79 942.90)"><text id="t1" class="k" font-size="23.0" text-anchor="middle" fill="#000" xml:space="preserve">1</text><path d="M-6.86 -3.35H-1.25V1.38H-6.86ZM2.35 -3.35H6.99V1.38H2.35Z" fill="#fff"/></g>
<g transform="translate(423.37 942.90)"><text id="t2" class="k" font-size="23.0" text-anchor="middle" fill="#000" xml:space="preserve">10</text><path d="M-13.26 -3.35H-7.65V1.38H-13.26ZM-4.05 -3.35H0.59V1.38H-4.05Z" fill="#fff"/></g>
<g transform="translate(580.96 942.90)"><text id="t3" class="k" font-size="23.0" text-anchor="middle" fill="#000" xml:space="preserve">100</text><path d="M-19.65 -3.35H-14.04V1.38H-19.65ZM-10.44 -3.35H-5.80V1.38H-10.44Z" fill="#fff"/></g>
<g transform="translate(738.55 942.90)"><text id="t4" class="k" font-size="23.0" text-anchor="middle" fill="#000" xml:space="preserve">1000</text><path d="M-26.05 -3.35H-20.44V1.38H-26.05ZM-16.84 -3.35H-12.20V1.38H-16.84Z" fill="#fff"/></g>
<g transform="translate(75.20 446.90) rotate(-90)"><text id="t5" class="k" font-size="23.0" text-anchor="middle" fill="#000" xml:space="preserve">1.0</text><path d="M-16.45 -3.35H-10.84V1.38H-16.45ZM-7.25 -3.35H-2.61V1.38H-7.25Z" fill="#fff"/></g>
<g transform="translate(75.20 362.88) rotate(-90)"><text id="t6" class="k" font-size="23.0" text-anchor="middle" fill="#000" xml:space="preserve">1.5</text><path d="M-16.45 -3.35H-10.84V1.38H-16.45ZM-7.25 -3.35H-2.61V1.38H-7.25Z" fill="#fff"/></g>
<g transform="translate(75.20 278.86) rotate(-90)"><text id="t7" class="k" font-size="23.0" text-anchor="middle" fill="#000" xml:space="preserve">2.0</text></g>
<g transform="translate(75.20 194.84) rotate(-90)"><text id="t8" class="k" font-size="23.0" text-anchor="middle" fill="#000" xml:space="preserve">2.5</text></g>
<g transform="translate(75.20 110.82) rotate(-90)"><text id="t9" class="k" font-size="23.0" text-anchor="middle" fill="#000" xml:space="preserve">3.0</text></g>
<g transform="translate(75.20 26.80) rotate(-90)"><text id="t10" class="k" font-size="23.0" text-anchor="middle" fill="#000" xml:space="preserve">3.5</text></g>
<g transform="translate(75.20 898.55) rotate(-90)"><text id="t11" class="k" font-size="23.0" text-anchor="middle" fill="#000" xml:space="preserve">0</text></g>
<g transform="translate(75.20 802.41) rotate(-90)"><text id="t12" class="k" font-size="23.0" text-anchor="middle" fill="#000" xml:space="preserve">25</text></g>
<g transform="translate(75.20 706.27) rotate(-90)"><text id="t13" class="k" font-size="23.0" text-anchor="middle" fill="#000" xml:space="preserve">50</text></g>
<g transform="translate(75.20 610.14) rotate(-90)"><text id="t14" class="k" font-size="23.0" text-anchor="middle" fill="#000" xml:space="preserve">75</text></g>
<g transform="translate(75.20 514.00) rotate(-90)"><text id="t15" class="k" font-size="23.0" text-anchor="middle" fill="#000" xml:space="preserve">100</text><path d="M-19.65 -3.35H-14.04V1.38H-19.65ZM-10.44 -3.35H-5.80V1.38H-10.44Z" fill="#fff"/></g>
<g transform="translate(29.80 254.00) rotate(-90)"><text id="t16" class="k" font-size="27.66" text-anchor="middle" fill="#000" xml:space="preserve"><tspan class="s" style="font-family:'Liberation Serif',serif;font-weight:normal" font-size="30">β</tspan><tspan class="s" style="font-family:'Liberation Serif',serif;font-weight:normal" font-size="16.5" dy="5">τ</tspan><tspan dy="-5">  ( </tspan><tspan dy="2.5">=</tspan><tspan dy="-2.5"> </tspan><tspan class="s" style="font-family:'Liberation Serif',serif;font-weight:normal">Δ</tspan>V <tspan class="s" style="font-weight:normal">/</tspan> <tspan class="s" style="font-family:'Liberation Serif',serif;font-weight:normal">Δ</tspan>V<tspan font-size="18" dy="5">int</tspan><tspan dy="-5">)</tspan></text></g>
<g transform="translate(30.80 706.00) rotate(-90)"><text id="t17" class="k" font-size="27.55" text-anchor="middle" fill="#000" xml:space="preserve">Relative contribution to <tspan class="s" style="font-family:'Liberation Serif',serif;font-weight:normal">Δ</tspan>V (%)</text></g>
<g transform="translate(423.40 980.30)"><text id="t18" class="k" font-size="29.3" text-anchor="middle" fill="#000" xml:space="preserve" style="font-family:'Liberation Serif',serif;font-weight:normal;stroke-width:0.75px">τ</text></g>
<g transform="translate(153.10 63.30)"><text id="t19" class="k" font-size="27.66" text-anchor="start" fill="#000" xml:space="preserve">Analytic prediction (Phillips et al 1979)</text><path d="M434.34 -3.82H441.13V1.66H434.34ZM445.36 -3.82H450.99V1.66H445.36Z" fill="#fff"/></g>
<g transform="translate(152.90 104.60)"><text id="t20" class="o" font-size="27.66" text-anchor="start" fill="#ffa500" xml:space="preserve">FWHM (from line emission)</text></g>
<g transform="translate(152.90 147.00)"><text id="t21" class="b" font-size="27.66" text-anchor="start" fill="#0000ff" xml:space="preserve">FWHM (from Gaussian fits)</text></g>
<path d="M376 551.5H423.3" stroke="#ff0000" stroke-width="3.6" stroke-linecap="round" fill="none"/>
<path d="M376 578.5H385.5M404 578.5H414" stroke="#000" stroke-width="3.5" stroke-linecap="round" fill="none"/>
<g transform="translate(440.30 555.30)"><text id="t22" class="r" font-size="25.25" text-anchor="start" fill="#ff0000" xml:space="preserve">Opacity Broadening</text></g>
<g transform="translate(440.40 582.50)"><text id="t23" class="k" font-size="25.25" text-anchor="start" fill="#000" xml:space="preserve">Doppler Broadenig</text></g>
<g transform="translate(433.60 604.70)"><text id="t24" class="k" font-size="23" text-anchor="start" fill="#000" xml:space="preserve">(Thermal + Non−th. motions)</text></g>
</svg>
</body></html>
